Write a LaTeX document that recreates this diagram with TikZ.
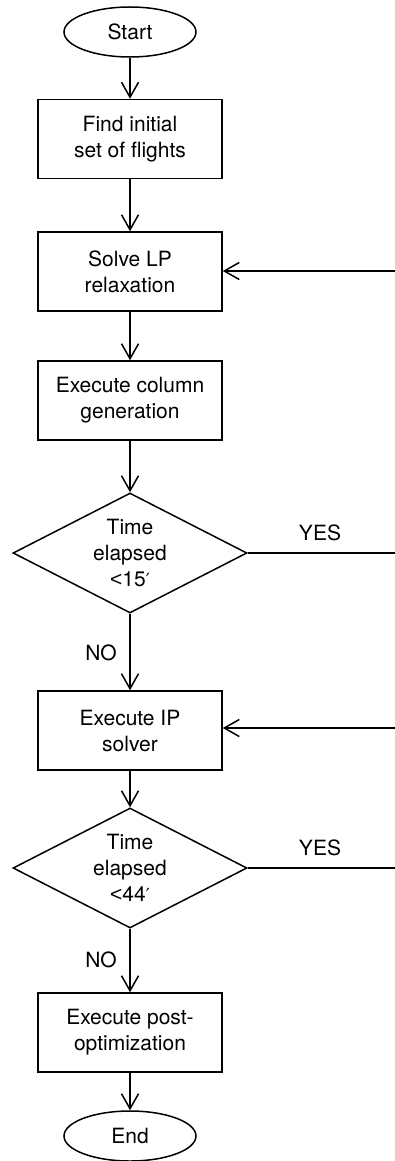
\documentclass[tikz,border=0pt]{standalone}
\usepackage{fontspec}
\setmainfont{TeX Gyre Heros}
\newfontfamily\primefont{DejaVu Sans}
\newfontfamily\ltfont{Liberation Sans}
\usetikzlibrary{shapes.geometric,arrows.meta}
\newcommand{\pr}{{\primefont\fontsize{18}{26}\selectfont ′}}
\newcommand{\lt}{{\ltfont <}}
\begin{document}
\begin{tikzpicture}[x=1pt,y=-1pt,
  every node/.style={font=\fontsize{21}{26}\selectfont},
  procbox/.style={draw,line width=1.5pt,minimum width=184pt,minimum height=79pt,align=center,inner sep=0pt},
  termin/.style={draw,ellipse,line width=1.5pt,minimum width=132pt,minimum height=50pt,inner sep=0pt},
  decis/.style={draw,diamond,aspect=2,line width=1.5pt,minimum width=234pt,minimum height=120pt,align=center,inner sep=0pt},
  flow/.style={line width=1.5pt,-{Straight Barb[length=15pt,width=17pt,line width=1.5pt]}},
  plain/.style={line width=1.5pt},
  lbl/.style={inner sep=0pt}]
\useasboundingbox (0,0) rectangle (395,1161);
\node[termin] (start) at (130,32) {Start};
\node[procbox] (find) at (130,139) {Find initial\\set of flights};
\node[procbox] (solve) at (130,271.5) {Solve LP\\relaxation};
\node[procbox] (col) at (130,400.5) {Execute column\\generation};
\node[decis] (d1) at (130,553) {Time\\elapsed\\\lt15\pr};
\node[procbox] (ip) at (130,730.5) {Execute IP\\solver};
\node[decis] (d2) at (130,868) {Time\\elapsed\\\lt44\pr};
\node[procbox] (post) at (130,1032.5) {Execute post-\\optimization};
\node[termin] (end) at (130,1136) {End};
\node[lbl] (yes1) at (320,533) {YES};
\node[lbl] (no1) at (101,653) {NO};
\node[lbl] (yes2) at (320,848) {YES};
\node[lbl] (no2) at (101,960) {NO};
\coordinate (r1) at (395,553);
\coordinate (l1) at (395,271);
\coordinate (r2) at (395,868);
\coordinate (l2) at (395,728);
\draw[flow] (start) -- (find);
\draw[flow] (find) -- (solve);
\draw[flow] (solve) -- (col);
\draw[flow] (col) -- (d1);
\draw[flow] (d1) -- (ip);
\draw[flow] (ip) -- (d2);
\draw[flow] (d2) -- (post);
\draw[flow] (post) -- (end);
\draw[plain] (d1.east) -- (r1);
\draw[flow] (l1) -- (l1 -| solve.east);
\draw[plain] (d2.east) -- (r2);
\draw[flow] (l2) -- (l2 -| ip.east);
\end{tikzpicture}
\end{document}
